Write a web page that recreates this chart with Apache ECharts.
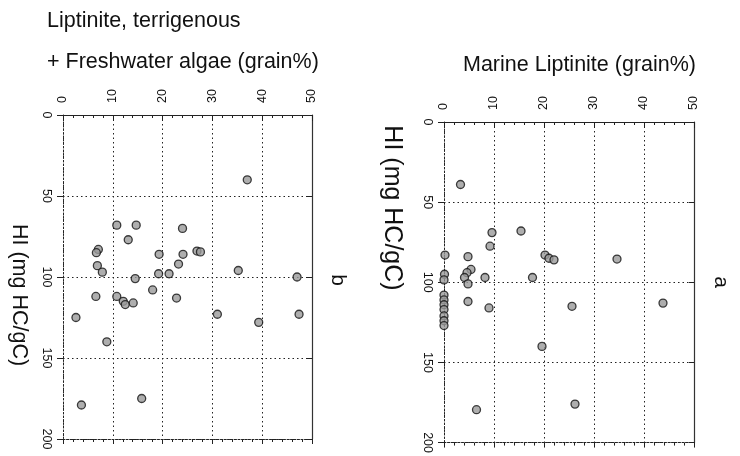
<!DOCTYPE html>
<html>
<head>
<meta charset="utf-8">
<script src="https://cdn.jsdelivr.net/npm/echarts@6/dist/echarts.min.js"></script>
<style>
html,body{margin:0;padding:0;background:#fff;}
#c{width:740px;height:456px;}
</style>
</head>
<body>
<div id="c"></div>
<script>
// Panel b: Liptinite, terrigenous + Freshwater algae (grain%) vs HI
var terrX  = [37, 10.8, 14.7, 24, 13.1, 7.1, 6.7, 19.3, 24.1, 26.9, 27.6, 23.2, 6.9, 7.9, 35.2, 19.2, 21.3, 14.5, 47, 18, 6.6, 10.8, 12.1, 12.5, 14.1, 22.8, 2.6, 31, 47.4, 39.3, 8.8, 3.7, 15.8];
var terrHI = [40, 68, 68, 70, 77, 83, 85, 86, 86, 84, 84.5, 92, 93, 97, 96, 98, 98, 101, 100, 108, 112, 112, 115, 117, 116, 113, 125, 123, 123, 128, 140, 179, 175];
// Panel a: Marine Liptinite (grain%) vs HI
var marX  = [3.3, 9.6, 15.4, 9.2, 0.2, 4.8, 20.2, 21, 22, 34.6, 5.4, 4.6, 0.1, 4.1, 8.2, 17.7, 0, 4.8, 0, 0, 0, 0, 4.8, 9, 25.6, 43.8, 0, 0, 0, 19.6, 6.5, 26.2];
var marHI = [39, 69, 68, 77.5, 83, 84, 83, 85, 86, 85.5, 92, 94, 95, 97, 97, 97, 98.5, 101, 108, 111, 114, 117, 112, 116, 115, 113, 121, 124, 127, 140, 179.5, 176];

var xTicks = [0, 10, 20, 30, 40, 50];
var yTicks = [0, 50, 100, 150, 200];
var titleB1 = 'Liptinite, terrigenous';
var titleB2 = '+ Freshwater algae (grain%)';
var titleA = 'Marine Liptinite (grain%)';
var yName = 'HI (mg HC/gC)';

function pairs(xs, ys){ return xs.map(function(v,i){ return [v, ys[i]]; }); }

var FONT = '"Liberation Sans", Arial, Helvetica, sans-serif';
var INK = '#222';
var dotted = [1.5, 3];

function topX(gi){
  return {
    gridIndex: gi, type: 'value', position: 'top', min: 0, max: 50, interval: 10,
    axisLine: {show: true, onZero: false, lineStyle: {color: INK, width: 1}},
    axisTick: {show: true, inside: true, length: 6, lineStyle: {color: INK}},
    minorTick: {show: true, splitNumber: 5, length: 3, lineStyle: {color: INK}},
    axisLabel: {show: true, rotate: -90, margin: 12, color: '#111', fontSize: 12.5, fontFamily: FONT},
    splitLine: {show: true, lineStyle: {color: INK, type: dotted, width: 1}}
  };
}
function bottomX(gi){
  return {
    gridIndex: gi, type: 'value', position: 'bottom', min: 0, max: 50, interval: 10,
    axisLine: {show: true, onZero: false, lineStyle: {color: INK, width: 1, type: [2, 1.5]}},
    axisTick: {show: true, inside: false, length: 5, lineStyle: {color: INK}},
    minorTick: {show: true, splitNumber: 5, length: 3, lineStyle: {color: INK}},
    axisLabel: {show: false},
    splitLine: {show: false}
  };
}
function leftY(gi){
  return {
    gridIndex: gi, type: 'value', position: 'left', inverse: true, min: 0, max: 200, interval: 50,
    axisLine: {show: true, onZero: false, lineStyle: {color: INK, width: 1, type: [1.5, 2]}},
    axisTick: {show: true, inside: false, length: 6, lineStyle: {color: INK}},
    axisLabel: {show: true, rotate: -90, margin: 10, color: '#111', fontSize: 12.5, fontFamily: FONT},
    splitLine: {show: true, lineStyle: {color: INK, type: dotted, width: 1}}
  };
}
function rightY(gi){
  return {
    gridIndex: gi, type: 'value', position: 'right', inverse: true, min: 0, max: 200, interval: 50,
    axisLine: {show: true, onZero: false, lineStyle: {color: '#333', width: 1.2}},
    axisTick: {show: true, inside: true, length: 5, lineStyle: {color: INK}},
    axisLabel: {show: false},
    splitLine: {show: false}
  };
}

function label(text, x, y, size, rot, align){
  return {
    type: 'text', x: x, y: y, rotation: rot || 0,
    style: {text: text, x: 0, y: 0, font: size + 'px ' + FONT, fill: '#111',
            textAlign: align || 'center', textVerticalAlign: 'middle'}
  };
}

var markerStyle = {color: '#9a9a9a', borderColor: '#111', borderWidth: 1.3};

var option = {
  animation: false,
  backgroundColor: '#fff',
  grid: [
    {left: 63, top: 115, width: 249, height: 324},
    {left: 444, top: 122, width: 250, height: 323}
  ],
  xAxis: [topX(0), bottomX(0), topX(1), bottomX(1)],
  yAxis: [leftY(0), rightY(0), leftY(1), rightY(1)],
  series: [
    {type: 'scatter', xAxisIndex: 0, yAxisIndex: 0, data: pairs(terrX, terrHI),
     symbol: 'circle', symbolSize: 8, clip: false, itemStyle: markerStyle},
    {type: 'scatter', xAxisIndex: 2, yAxisIndex: 2, data: pairs(marX, marHI),
     symbol: 'circle', symbolSize: 8, clip: false, itemStyle: markerStyle}
  ],
  graphic: [
    label(titleB1, 47, 21, 21.5, 0, 'left'),
    label(titleB2, 47, 62, 21.5, 0, 'left'),
    label(titleA, 463, 65, 21.5, 0, 'left'),
    label(yName, 19, 295, 21.5, -Math.PI / 2),
    label(yName, 392, 208, 25, -Math.PI / 2),
    label('b', 338, 280, 21, -Math.PI / 2),
    label('a', 721, 282, 21, -Math.PI / 2)
  ]
};

var chart = echarts.init(document.getElementById('c'), null, {renderer: 'canvas'});
chart.setOption(option);
</script>
</body>
</html>
